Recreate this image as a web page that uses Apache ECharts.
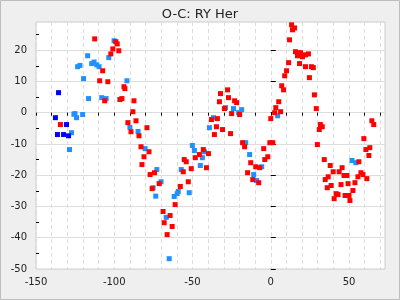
<!DOCTYPE html>
<html>
<head>
<meta charset="utf-8">
<script src="https://cdn.jsdelivr.net/npm/echarts@6/dist/echarts.min.js"></script>
<style>
  html, body { margin: 0; padding: 0; }
  #chart { width: 400px; height: 300px; }
</style>
</head>
<body>
<div id="chart"></div>
<script>
// tick labels
let xTicks = [-150, -100, -50, 0, 50];
let xMinorTicks = [-150, -140, -130, -120, -110, -100, -90, -80, -70, -60, -50, -40, -30, -20, -10, 0, 10, 20, 30, 40, 50, 60, 70];
let yTicks = [-50, -40, -30, -20, -10, 0, 10, 20];
let yMinorTicks = [-45, -35, -25, -15, -5, 5, 15, 25];

// dark blue points
let darkBlueX = [-135.6, -137.6, -130.5, -136.3, -132.4, -129.2];
let darkBlueY = [6.4, -1.6, -3.8, -7.0, -7.0, -7.4];

// light blue points
let lightBlueX = [-100.1, -117.0, -103.5, -123.4, -121.9, -114.4, -112.9, -111.2, -109.7, -119.6,
  -91.9, -116.4, -108.0, -105.2, -125.8, -125.1, -124.1, -120.2, -127.3, -128.6,
  -90.0, -84.8, -80.3, -72.8, -75.2, -73.5, -70.1, -66.8, -64.9, -61.7,
  -59.8, -59.1, -57.2, -52.1, -50.1, -48.8, -42.4, -45.0, -43.7, -39.2,
  -36.6, -28.9, -23.8, -18.6, -20.55, -16.0, -13.5, -10.9, -9.0, -5.8,
  4.4, 51.9, 54.4];
let lightBlueY = [23.0, 18.2, 17.6, 14.7, 15.1, 15.7, 16.2, 15.3, 14.7, 10.9,
  10.2, 4.5, 4.8, 4.5, -0.5, -0.3, -1.6, -0.6, -6.4, -11.8,
  -4.7, -6.0, -11.5, -18.2, -24.0, -26.7, -22.1, -33.5, -46.7, -26.8,
  -25.9, -25.2, -18.2, -25.6, -10.5, -12.1, -12.5, -16.9, -14.4, -4.8,
  -1.6, 1.6, 1.3, 0.95, 0.0, -9.6, -13.4, -19.8, -21.7, -17.3,
  -1.0, -15.3, -16.0];

// red points
let redX = [-112.5, -134.4, -99.0, -98.1, -100.9, -97.1, -102.2, -107.4, -109.3, -104.1,
  -93.8, -93.2, -106.1, -96.4, -95.1, -87.4, -88.1, -91.3, -86.1, -89.3,
  -84.2, -79.1, -82.9, -77.8, -81.0, -82.3, -77.1, -74.3, -75.8, -71.3,
  -68.8, -64.3, -68.1, -63.0, -66.2, -61.1, -57.8, -52.7, -55.3, -54.0,
  -55.9, -50.8, -48.2, -45.6, -43.1, -39.8, -41.1, -37.9, -34.1, -34.7,
  -30.8, -36.0, -25.7, -32.1, -27.6, -32.8, -27.0, -23.1, -21.8, -29.6,
  -25.0, -19.9, -18.0, -16.7, -4.5, -0.6, -12.8, -9.6, -7.1, -14.8,
  -11.5, -7.7, -3.8, -1.9, 0.0, 13.3, 15.2, 13.9, 12.0, 15.8,
  19.0, 17.1, 20.3, 22.2, 24.1, 11.4, 18.4, 22.2, 26.0, 27.2,
  10.1, 8.9, 24.7, 7.0, 8.2, 27.9, 5.1, 29.1, 3.2, 2.5,
  6.3, 31.7, 32.9, 31.0, 1.3, 29.8, 34.2, 38.0, 45.6, 39.9,
  43.7, 36.7, 34.8, 46.8, 48.7, 44.9, 38.6, 36.1, 41.8, 43.0,
  40.5, 47.5, 50.0, 50.6, 52.5, 53.8, 49.4, 55.7, 57.6, 58.9,
  61.4, 56.3, 62.7, 63.3, 60.8, 59.5, 64.6, 65.8];
let redY = [23.6, -3.8, 22.7, 22.0, 20.4, 19.8, 18.8, 13.4, 10.2, 9.9,
  8.3, 7.7, 3.8, 4.2, 4.5, 3.8, 0.3, -3.2, -2.6, -6.1,
  -7.4, -4.8, -10.9, -12.5, -14.1, -16.6, -19.8, -19.2, -24.3, -22.7,
  -31.6, -32.9, -35.2, -36.4, -39.0, -29.4, -23.6, -22.1, -15.0, -15.7,
  -18.9, -17.9, -14.4, -13.4, -11.8, -13.1, -17.6, -2.2, -1.9, -4.5,
  -5.4, -7.0, -6.7, 6.1, 7.3, 3.5, 4.8, 3.8, 3.2, 1.3,
  -0.3, -0.6, -9.6, -10.9, -11.5, -9.6, -16.0, -17.3, -17.6, -19.2,
  -21.4, -22.4, -15.0, -14.1, -1.9, 28.1, 27.1, 26.5, 23.3, 19.5,
  19.2, 18.2, 17.9, 18.5, 18.8, 16.0, 15.7, 14.7, 14.7, 14.4,
  13.4, 11.8, 11.2, 8.6, 7.3, 5.7, 3.5, 1.3, 1.6, 0.0,
  0.3, -3.8, -4.5, -5.4, -9.6, -10.2, -15.0, -16.9, -17.6, -18.9,
  -18.9, -20.5, -21.4, -20.1, -20.1, -23.0, -23.3, -24.0, -25.9, -26.2,
  -27.5, -26.5, -26.5, -28.1, -24.9, -22.4, -22.7, -20.5, -19.2, -19.8,
  -21.1, -15.7, -13.7, -11.2, -11.8, -8.3, -2.6, -3.8];

let fontName = "DejaVu Sans";
let chartInst = null;

function zipData(xs, ys) {
  let out = [];
  for (let i = 0; i < xs.length; i++) {
    out.push([xs[i], ys[i]]);
  }
  return out;
}

function makeSeries(xs, ys, color) {
  return {
    type: "scatter",
    data: zipData(xs, ys),
    symbol: "rect",
    symbolSize: 5,
    itemStyle: { color: color, opacity: 1 },
    animation: false,
  };
}

function initChart() {
  chartInst = echarts.init(document.getElementById("chart"), null, { renderer: "canvas" });
  let option = {
    backgroundColor: "#efefef",
    animation: false,
    title: {
      text: "O-C: RY Her",
      left: "center",
      top: 3,
      textStyle: {
        fontFamily: fontName,
        fontSize: 13,
        fontWeight: "normal",
        color: "#222",
      },
    },
    graphic: [
      {
        type: "rect",
        shape: { x: 0.5, y: 0.5, width: 399, height: 299 },
        style: { fill: "none", stroke: "#bdbdbd", lineWidth: 1 },
        silent: true,
      },
    ],
    grid: {
      left: 36,
      right: 15,
      top: 22,
      bottom: 31,
      show: true,
      backgroundColor: "#fff",
      borderColor: "#cccccc",
      borderWidth: 1,
    },
    xAxis: {
      type: "value",
      min: -150,
      max: 73,
      interval: 50,
      axisLine: { show: false },
      axisTick: {
        show: true,
        customValues: xMinorTicks,
        length: 3,
        lineStyle: { color: "#000" },
      },
      axisLabel: {
        customValues: xTicks,
        margin: 8,
        fontFamily: fontName,
        fontSize: 10,
        color: "#222",
      },
      splitLine: {
        show: true,
        lineStyle: { color: "#dddddd", type: [4, 3] },
      },
    },
    yAxis: [
      {
        type: "value",
        min: -50,
        max: 29,
        interval: 10,
        axisLine: { show: false },
        axisTick: {
          show: true,
          inside: true,
          length: 5,
          customValues: yTicks,
          lineStyle: { color: "#000" },
        },
        axisLabel: {
          customValues: yTicks,
          margin: 9,
          fontFamily: fontName,
          fontSize: 10,
          color: "#222",
        },
        splitLine: {
          show: true,
          lineStyle: { color: "#dddddd" },
        },
      },
      {
        // minor ticks only
        type: "value",
        position: "left",
        min: -50,
        max: 29,
        interval: 5,
        axisLine: { show: false },
        axisTick: {
          show: true,
          inside: true,
          length: 3,
          customValues: yMinorTicks,
          lineStyle: { color: "#000" },
        },
        axisLabel: { show: false },
        splitLine: { show: false },
      },
    ],
    series: [
      makeSeries(lightBlueX, lightBlueY, "#1e90ff"),
      makeSeries(redX, redY, "#ff0000"),
      makeSeries(darkBlueX, darkBlueY, "#0000ff"),
    ],
  };
  chartInst.setOption(option, true);
}

initChart();
</script>
</body>
</html>
